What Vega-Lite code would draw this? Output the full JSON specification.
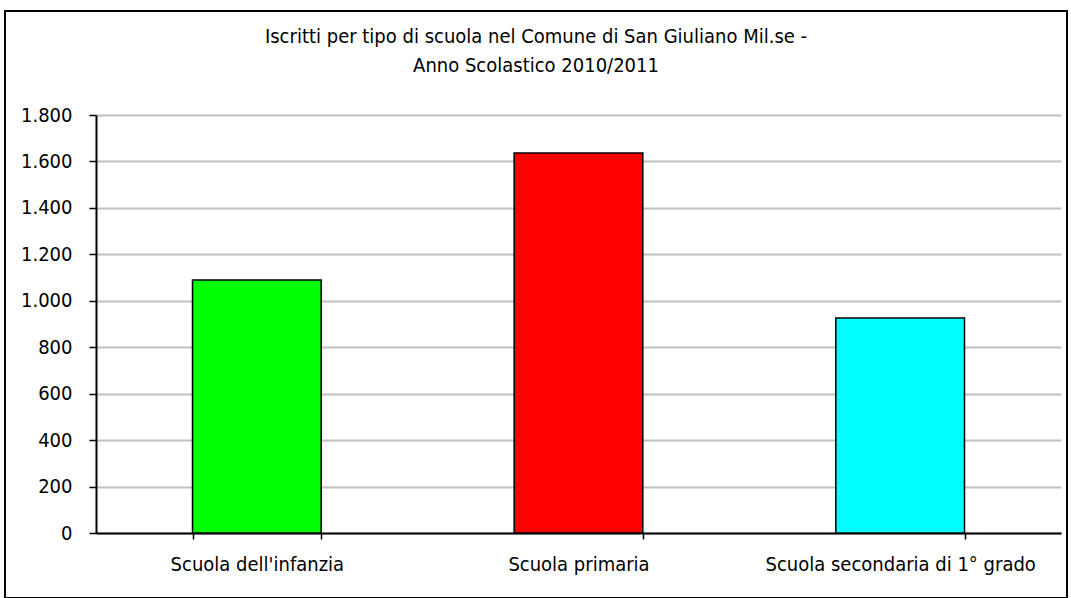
{
  "$schema": "https://vega.github.io/schema/vega-lite/v6.json",
  "autosize": {"type": "none"},
  "padding": {"left": 5, "top": 11, "right": 4, "bottom": 0},
  "width": 1062,
  "height": 587,
  "background": "white",
  "config": {
    "locale": {"number": {"decimal": ",", "thousands": ".", "grouping": [3], "currency": ["€", ""]}},
    "view": {"stroke": "black", "strokeWidth": 2},
    "font": "DejaVu Sans Condensed"
  },
  "title": {
    "text": ["Iscritti per tipo di scuola nel Comune di San Giuliano Mil.se -", "Anno Scolastico 2010/2011"],
    "anchor": "middle",
    "frame": "group",
    "baseline": "top",
    "offset": -65,
    "font": "DejaVu Sans Condensed",
    "fontSize": 20,
    "fontWeight": "normal",
    "color": "black",
    "lineHeight": 29
  },
  "data": {
    "values": [
      {"scuola": "Scuola dell'infanzia", "iscritti": 1089},
      {"scuola": "Scuola primaria", "iscritti": 1636},
      {"scuola": "Scuola secondaria di 1° grado", "iscritti": 926}
    ]
  },
  "mark": {"type": "bar", "stroke": "black", "strokeWidth": 1.5, "opacity": 1},
  "encoding": {
    "x": {
      "field": "scuola",
      "type": "nominal",
      "sort": null,
      "scale": {"range": [91, 1056], "paddingInner": 0.6, "paddingOuter": 0.3},
      "axis": {
        "title": null,
        "offset": -65,
        "labelAngle": 0,
        "labelFont": "DejaVu Sans Condensed",
        "labelFontSize": 20,
        "labelColor": "black",
        "labelPadding": 15,
        "labelLimit": 0,
        "tickBand": "extent",
        "tickSize": 6,
        "tickColor": "black",
        "tickWidth": 1.5,
        "domainColor": "black",
        "domainWidth": 2,
        "grid": false
      }
    },
    "y": {
      "field": "iscritti",
      "type": "quantitative",
      "scale": {"domain": [0, 1800], "range": [522, 104], "nice": false},
      "axis": {
        "title": null,
        "offset": -91,
        "values": [0, 200, 400, 600, 800, 1000, 1200, 1400, 1600, 1800],
        "format": ",d",
        "labelFont": "DejaVu Sans Condensed",
        "labelFontSize": 20,
        "labelColor": "black",
        "labelPadding": 17,
        "tickSize": 7,
        "tickColor": "black",
        "tickWidth": 1.5,
        "domainColor": "black",
        "domainWidth": 2,
        "grid": true,
        "gridColor": "#c0c0c0",
        "gridWidth": 2
      }
    },
    "color": {
      "field": "scuola",
      "type": "nominal",
      "scale": {
        "domain": ["Scuola dell'infanzia", "Scuola primaria", "Scuola secondaria di 1° grado"],
        "range": ["#00ff00", "#ff0000", "#00ffff"]
      },
      "legend": null
    }
  }
}
